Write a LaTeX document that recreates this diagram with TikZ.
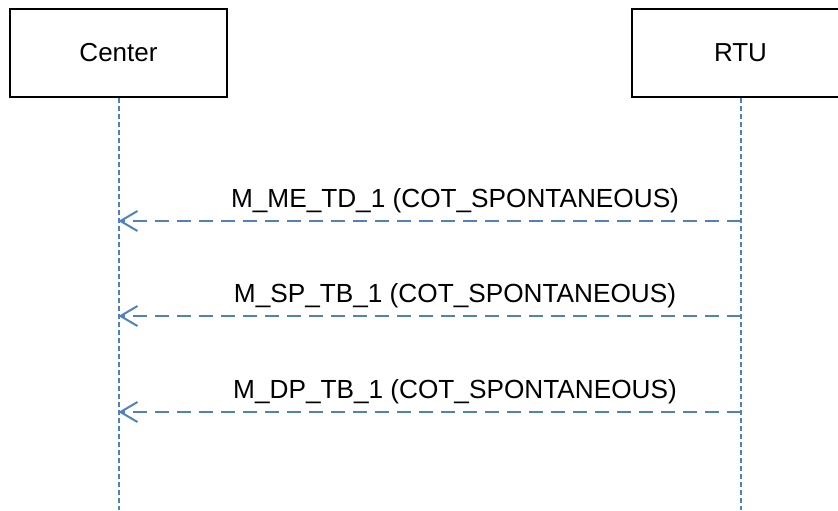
\documentclass[tikz,border=0pt]{standalone}
\usepackage{fontspec}
\setmainfont{Liberation Sans}
\usetikzlibrary{arrows.meta}
\definecolor{lineblue}{HTML}{4F81BD}
\tikzset{
  actor/.style={draw=black, line width=1pt, minimum width=108.5pt, minimum height=44pt, inner sep=0pt, font=\fontsize{13}{15}\selectfont},
  lifeline/.style={lineblue, line width=1pt, dash pattern=on 2.5pt off 1.5pt},
  msg/.style={lineblue, line width=1pt, dash pattern=on 7pt off 4pt, -{Straight Barb[length=8.5pt,width=10pt,line width=1pt]}},
  msglabel/.style={font=\fontsize{13.1}{15}\selectfont, anchor=base, inner sep=0pt}
}

\begin{document}
\begin{tikzpicture}[x=0.5pt, y=-0.5pt]
\def\ymax{510}
\clip (0,0) rectangle (838,\ymax);

\node[actor] (center) at (118.5,53) {Center};
\node[actor] (rtu) at (740.5,53) {RTU};

\coordinate (center end) at (center.south |- 0,\ymax);
\coordinate (rtu end) at (rtu.south |- 0,\ymax);

\draw[lifeline] (center.south) -- (center end);
\draw[lifeline] (rtu.south) -- (rtu end);

% messages RTU -> Center
\coordinate (rtu a) at (rtu.south |- 0,221);
\coordinate (center a) at (center.south |- 0,221);
\coordinate (rtu b) at (rtu.south |- 0,316);
\coordinate (center b) at (center.south |- 0,316);
\coordinate (rtu c) at (rtu.south |- 0,412);
\coordinate (center c) at (center.south |- 0,412);

\draw[msg] (rtu a) -- (center a);
\draw[msg] (rtu b) -- (center b);
\draw[msg] (rtu c) -- (center c);

\node[msglabel] (label a) at (455,207) {M\_ME\_TD\_1 (COT\_SPONTANEOUS)};
\node[msglabel] (label b) at (455,302) {M\_SP\_TB\_1 (COT\_SPONTANEOUS)};
\node[msglabel] (label c) at (455,398) {M\_DP\_TB\_1 (COT\_SPONTANEOUS)};
\end{tikzpicture}
\end{document}
